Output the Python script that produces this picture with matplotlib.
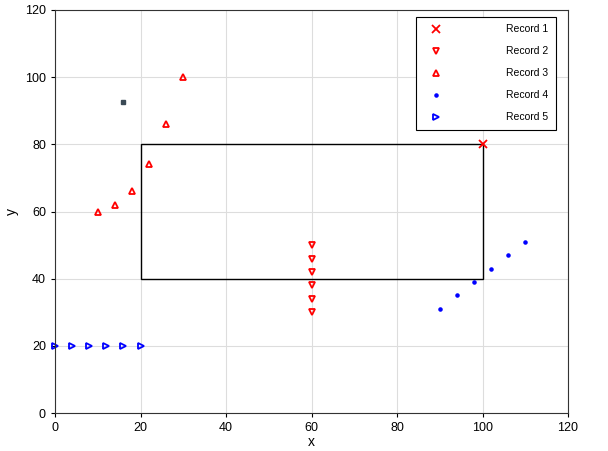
import matplotlib
matplotlib.use("Agg")
import matplotlib.pyplot as plt
from matplotlib.patches import Rectangle

r1_x = [100]; r1_y = [80]
r2_x = [60, 60, 60, 60, 60, 60]; r2_y = [50, 46, 42, 38, 34, 30]
r3_x = [10, 14, 18, 22, 26, 30]; r3_y = [60, 62, 66, 74, 86, 100]
r4_x = [90, 94, 98, 102, 106, 110]; r4_y = [31, 35, 39, 43, 47, 51]
r5_x = [0, 4, 8, 12, 16, 20]; r5_y = [20, 20, 20, 20, 20, 20]
rect = (20, 40, 80, 40)
dot_x, dot_y = 16, 92.5

plt.rcParams['font.family'] = ['Liberation Sans', 'DejaVu Sans']
fig = plt.figure(figsize=(6.08, 4.51), dpi=100)
ax = fig.add_axes([55/608, 38/451, 513/608, 403/451])
ax.plot(r1_x, r1_y, 'x', color='red', ms=6, mew=1.3, ls='none', label='Record 1', clip_on=False)
ax.plot(r2_x, r2_y, 'v', mfc='none', mec='red', ms=5, mew=1.3, ls='none', label='Record 2')
ax.plot(r3_x, r3_y, '^', mfc='none', mec='red', ms=5, mew=1.3, ls='none', label='Record 3')
ax.plot(r4_x, r4_y, '.', color='blue', ms=4.5, ls='none', label='Record 4')
ax.plot(r5_x, r5_y, '>', mfc='none', mec='blue', ms=5, mew=1.3, ls='none', label='Record 5', clip_on=False)
ax.add_patch(Rectangle(rect[:2], rect[2], rect[3], fill=False, ec='black', lw=1))
ax.plot([dot_x], [dot_y], 's', color='#3a4a55', ms=3)
ax.set_xlim(0, 120); ax.set_ylim(0, 120)
ax.set_xticks(range(0, 121, 20)); ax.set_yticks(range(0, 121, 20))
ax.grid(True, color='#dddddd', lw=0.8)
ax.set_axisbelow(True)
ax.tick_params(labelsize=9, length=3)
for s in ax.spines.values():
    s.set_color('#333333')
ax.set_xlabel('x', fontsize=10, labelpad=1)
ax.set_ylabel('y', fontsize=10, labelpad=4)
leg = ax.legend(loc='upper right', bbox_to_anchor=(556/608, 1-17/451), bbox_transform=fig.transFigure,
                fontsize=7.5, markerfirst=True, handletextpad=5.5,
                borderpad=0.7, labelspacing=1.15, fancybox=False, edgecolor='black',
                framealpha=1, borderaxespad=0, handlelength=2.5)
leg.get_frame().set_linewidth(0.8)
fig.savefig('out.png', dpi=100)
